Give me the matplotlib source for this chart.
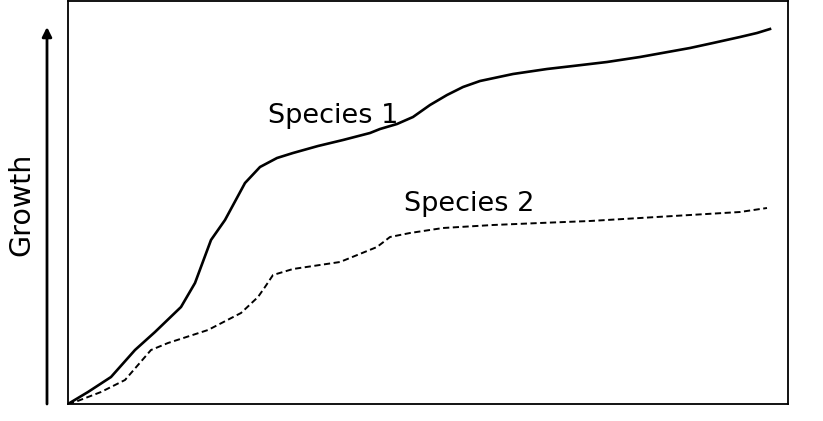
import matplotlib
matplotlib.use("Agg")
import matplotlib.pyplot as plt

# values (arbitrary growth units)
species1_x = [0, 20, 43, 67, 87, 113, 127, 143, 157, 177, 192, 209, 225, 250, 275, 302, 312, 329, 345,
              362, 379, 395, 412, 445, 479, 505, 539, 572, 622, 645, 672, 689, 702]
species1_y = [0, 12, 27, 54, 72, 97, 121, 164, 184, 221, 237, 246, 251, 258, 264, 271, 275, 280, 287,
              299, 309, 317, 323, 330, 335, 338, 342, 347, 356, 361, 367, 371, 375]
species2_x = [0, 7, 33, 57, 83, 100, 140, 173, 190, 197, 205, 225, 272, 309, 322, 342, 375, 425, 472,
              522, 572, 622, 672, 699]
species2_y = [0, 2, 12, 24, 54, 61, 74, 91, 107, 117, 129, 135, 142, 157, 167, 171, 176, 179, 181,
              183, 186, 189, 192, 196]
labels = ["Species 1", "Species 2"]

W, H = 823, 421
fig = plt.figure(figsize=(W / 100, H / 100), dpi=100)
ax = fig.add_axes([68 / W, (H - 404) / H, 720 / W, 403 / H])

ax.plot(species1_x, species1_y, color="black", lw=1.9, solid_joinstyle="round")
ax.plot(species2_x, species2_y, color="black", lw=1.4, linestyle=(0, (3.2, 1.8)))

ax.text(200, 288, labels[0], fontsize=19.5, ha="left", va="center")
ax.text(336, 200, labels[1], fontsize=19.5, ha="left", va="center")

ax.set_xlim(0, 720)
ax.set_ylim(0, 403)
ax.set_xticks([])
ax.set_yticks([])
for s in ax.spines.values():
  s.set_linewidth(1.3)

# axis arrow on the left, in figure pixels
ax.annotate("", xy=(47 / W, (H - 27) / H), xytext=(47 / W, (H - 404) / H),
            xycoords="figure fraction", textcoords="figure fraction",
            arrowprops=dict(arrowstyle="-|>", color="black", lw=2, mutation_scale=14,
                            shrinkA=0, shrinkB=0))
fig.text(21 / W, (H - 204) / H, "Growth", rotation=90, fontsize=20.5, ha="center", va="center")

fig.savefig("out.png", dpi=100)
